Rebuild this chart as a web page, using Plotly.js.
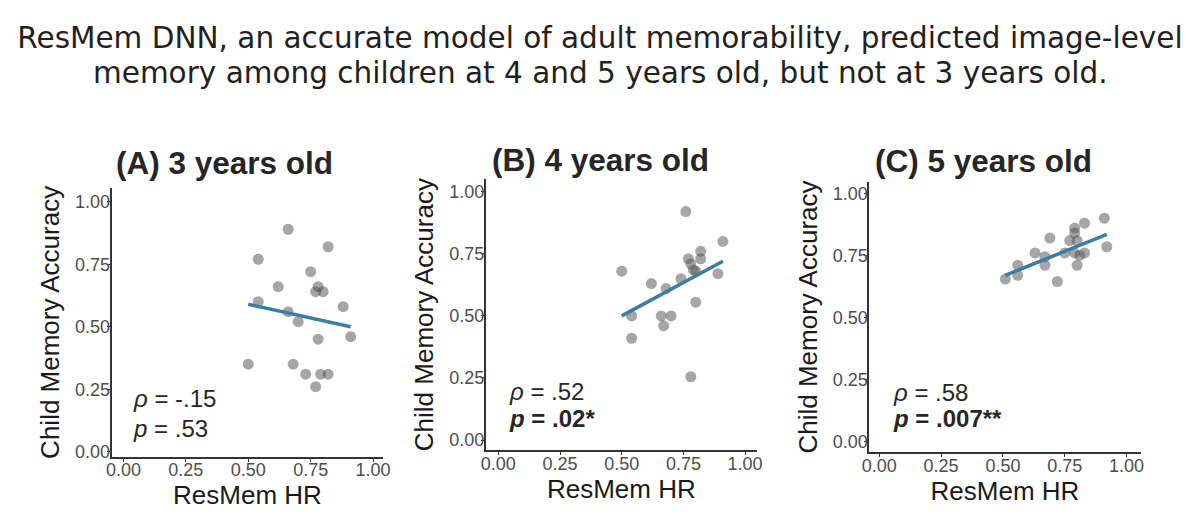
<!DOCTYPE html>
<html>
<head>
<meta charset="utf-8">
<script src="https://cdn.plot.ly/plotly-3.0.1.min.js"></script>
<style>html,body{margin:0;padding:0;background:#fff;}#chart{width:1200px;height:516px;}</style>
</head>
<body>
<div id="chart"></div>
<script>
// ---- data ----
const tickVals = [0, 0.25, 0.5, 0.75, 1];
const tickText = ['0.00', '0.25', '0.50', '0.75', '1.00'];

const titleLine1 = 'ResMem DNN, an accurate model of adult memorability, predicted image-level';
const titleLine2 = 'memory among children at 4 and 5 years old, but not at 3 years old.';
const panelTitles = ['(A) 3 years old', '(B) 4 years old', '(C) 5 years old'];
const rhoLabels = ['<i>ρ</i> = -.15', '<i>ρ</i> = .52', '<i>ρ</i> = .58'];
const pLabels = ['<i>p</i> = .53', '<b><i>p</i> = .02*</b>', '<b><i>p</i> = .007**</b>'];

const age3X = [0.66, 0.82, 0.54, 0.75, 0.62, 0.78, 0.77, 0.80, 0.54, 0.88, 0.66, 0.70, 0.78, 0.91, 0.50, 0.68, 0.73, 0.79, 0.82, 0.77];
const age3Y = [0.89, 0.82, 0.77, 0.72, 0.66, 0.66, 0.64, 0.64, 0.60, 0.58, 0.56, 0.52, 0.45, 0.46, 0.35, 0.35, 0.31, 0.31, 0.31, 0.26];
const age3FitX = [0.50, 0.91];
const age3FitY = [0.59, 0.50];

const age4X = [0.76, 0.91, 0.50, 0.82, 0.77, 0.82, 0.78, 0.79, 0.80, 0.89, 0.62, 0.74, 0.68, 0.80, 0.54, 0.66, 0.70, 0.67, 0.54, 0.78];
const age4Y = [0.92, 0.80, 0.68, 0.76, 0.73, 0.73, 0.71, 0.685, 0.68, 0.67, 0.63, 0.65, 0.61, 0.555, 0.50, 0.50, 0.50, 0.46, 0.41, 0.255];
const age4FitX = [0.50, 0.91];
const age4FitY = [0.50, 0.72];

const age5X = [0.91, 0.83, 0.79, 0.79, 0.69, 0.77, 0.80, 0.92, 0.63, 0.75, 0.79, 0.83, 0.81, 0.67, 0.67, 0.80, 0.56, 0.56, 0.51, 0.72];
const age5Y = [0.90, 0.88, 0.86, 0.84, 0.82, 0.81, 0.81, 0.785, 0.76, 0.76, 0.76, 0.76, 0.75, 0.745, 0.71, 0.71, 0.71, 0.67, 0.655, 0.645];
const age5FitX = [0.51, 0.92];
const age5FitY = [0.67, 0.835];

// ---- drawing ----
const W = 1200, H = 516;
const px = v => v / W;
const py = v => 1 - v / H;

const pointColor = 'rgba(85,85,85,0.52)';
const lineColor = '#3a7ea6';

const series = [
  [age3X, age3Y, age3FitX, age3FitY],
  [age4X, age4Y, age4FitX, age4FitY],
  [age5X, age5Y, age5FitX, age5FitY]
];

const traces = [];
series.forEach((s, i) => {
  const xa = i === 0 ? 'x' : 'x' + (i + 1);
  const ya = i === 0 ? 'y' : 'y' + (i + 1);
  traces.push({
    type: 'scatter', mode: 'markers', x: s[0], y: s[1], xaxis: xa, yaxis: ya,
    marker: {size: 11, color: pointColor, line: {width: 0}}, hoverinfo: 'skip'
  });
  traces.push({
    type: 'scatter', mode: 'lines', x: s[2], y: s[3], xaxis: xa, yaxis: ya,
    line: {color: lineColor, width: 3.5}, hoverinfo: 'skip'
  });
});

const baseFont = 'Liberation Sans, Arial, sans-serif';
const tickFont = {family: baseFont, size: 18, color: '#4d4d4d'};
const axTitleFont = {family: baseFont, size: 26, color: '#1a1a1a'};

function xAxis(domain, range, anchor) {
  return {
    domain: domain, range: range, anchor: anchor,
    showgrid: false, zeroline: false, showline: true, linecolor: '#333', linewidth: 2,
    ticks: 'outside', ticklen: 3, tickcolor: '#333', tickwidth: 1,
    ticklabelstandoff: -7,
    tickvals: tickVals, ticktext: tickText, tickfont: tickFont,
    title: {text: 'ResMem HR', font: axTitleFont, standoff: 1},
    fixedrange: true
  };
}
function yAxis(domain, range, anchor) {
  return {
    domain: domain, range: range, anchor: anchor,
    showgrid: false, zeroline: false, showline: true, linecolor: '#333', linewidth: 2,
    ticks: 'outside', ticklen: 3, tickcolor: '#333', tickwidth: 1,
    ticklabelstandoff: -7,
    tickvals: tickVals, ticktext: tickText, tickfont: tickFont,
    title: {text: 'Child Memory Accuracy', font: axTitleFont, standoff: 8},
    fixedrange: true
  };
}

// panel frames (pixels measured on the reference)
const frames = [
  {x0: 111.7, x1: 383.3, y0: 188.0, y1: 456.7, xr: [-0.047, 1.041], yr: [-0.02, 1.055], tx: 224, ty: 162.5, ax: 131, rhoY: 398, pY: 428},
  {x0: 486.0, x1: 756.7, y0: 179.3, y1: 450.0, xr: [-0.05, 1.047], yr: [-0.04, 1.05], tx: 600, ty: 160, ax: 507, rhoY: 391.5, pY: 418},
  {x0: 869.3, x1: 1140.7, y0: 181.7, y1: 452.3, xr: [-0.04, 1.057], yr: [-0.043, 1.047], tx: 984, ty: 160.5, ax: 891, rhoY: 392, pY: 418.5}
];

const mainFont = {family: 'DejaVu Sans, Noto Sans, sans-serif', size: 29.5, color: '#231f20'};

const layout = {
  width: W, height: H,
  margin: {l: 0, r: 0, t: 0, b: 0},
  paper_bgcolor: '#fff', plot_bgcolor: '#fff',
  showlegend: false,
  title: {
    text: titleLine1,
    font: mainFont,
    x: 0.5, xanchor: 'center', xref: 'paper',
    y: 1 - 38 / H, yanchor: 'middle', yref: 'container'
  },
  annotations: [{
    text: titleLine2, xref: 'paper', yref: 'paper',
    x: 0.5, y: py(73), xanchor: 'center', yanchor: 'middle', showarrow: false,
    font: mainFont
  }]
};

frames.forEach((f, i) => {
  const sfx = i === 0 ? '' : String(i + 1);
  layout['xaxis' + sfx] = xAxis([px(f.x0), px(f.x1)], f.xr, 'y' + sfx);
  layout['yaxis' + sfx] = yAxis([py(f.y1), py(f.y0)], f.yr, 'x' + sfx);
  layout.annotations.push({
    text: '<b>' + panelTitles[i] + '</b>', xref: 'paper', yref: 'paper',
    x: px(f.tx), y: py(f.ty), xanchor: 'center', yanchor: 'middle', showarrow: false,
    font: {family: baseFont, size: 31.5, color: '#262626'}
  });
  layout.annotations.push({
    text: rhoLabels[i], xref: 'paper', yref: 'paper',
    x: px(f.ax), y: py(f.rhoY), xanchor: 'left', yanchor: 'middle', showarrow: false,
    font: {family: baseFont, size: 24, color: '#262626'}
  });
  layout.annotations.push({
    text: pLabels[i], xref: 'paper', yref: 'paper',
    x: px(f.ax), y: py(f.pY), xanchor: 'left', yanchor: 'middle', showarrow: false,
    font: {family: baseFont, size: 24, color: '#262626'}
  });
});

Plotly.newPlot('chart', traces, layout, {displayModeBar: false, staticPlot: true});
</script>
</body>
</html>
